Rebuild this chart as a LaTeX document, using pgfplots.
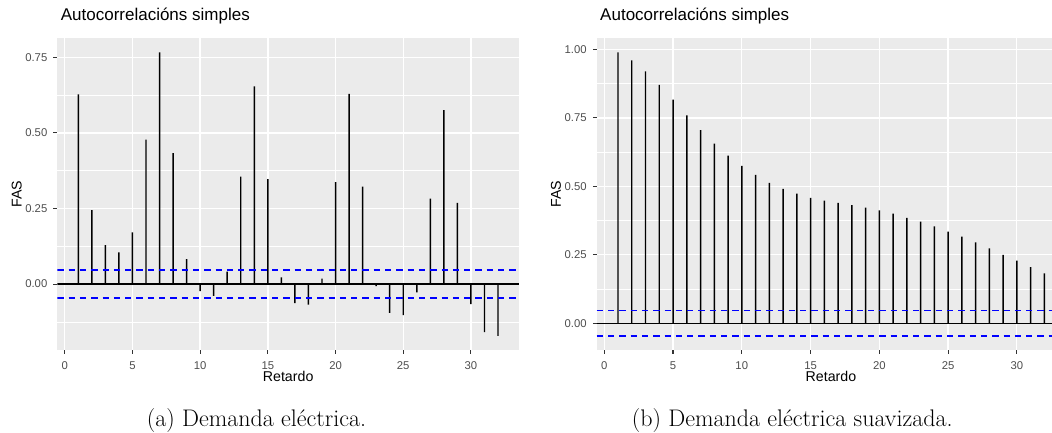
\documentclass[border=0pt]{standalone}
\usepackage{fontspec}
\usepackage{pgfplots}
\pgfplotsset{compat=1.18}
\newfontfamily\ggfont{Liberation Sans}
\definecolor{ggpanel}{HTML}{EBEBEB}
\definecolor{ggtick}{HTML}{333333}
\definecolor{gglab}{HTML}{4D4D4D}

% ACF values, lags 1..32
\pgfplotstableread{
lag acf
1 0.627
2 0.245
3 0.129
4 0.105
5 0.171
6 0.478
7 0.766
8 0.433
9 0.083
10 -0.023
11 -0.039
12 0.041
13 0.355
14 0.654
15 0.347
16 0.022
17 -0.063
18 -0.068
19 0.018
20 0.337
21 0.629
22 0.322
23 -0.007
24 -0.095
25 -0.103
26 -0.027
27 0.283
28 0.575
29 0.269
30 -0.066
31 -0.159
32 -0.171
}\acfdemanda

\pgfplotstableread{
lag acf
1 0.989
2 0.960
3 0.920
4 0.871
5 0.817
6 0.759
7 0.705
8 0.656
9 0.612
10 0.575
11 0.542
12 0.513
13 0.491
14 0.473
15 0.458
16 0.448
17 0.440
18 0.431
19 0.422
20 0.412
21 0.400
22 0.385
23 0.371
24 0.354
25 0.335
26 0.316
27 0.295
28 0.273
29 0.250
30 0.229
31 0.205
32 0.182
}\acfsuave

\pgfplotsset{
  ggacf/.style={
    scale only axis,
    anchor=south west,
    height=311.7pt,
    axis background/.style={fill=ggpanel},
    axis x line*=bottom, axis y line*=left,
    axis line style={draw=none},
    tick align=outside,
    major tick length=3.8pt,
    minor tick length=0pt,
    every tick/.style={ggtick, line width=1.1pt},
    xmajorgrids, ymajorgrids, yminorgrids,
    major grid style={white, line width=1.38pt},
    minor grid style={white, line width=0.69pt},
    xtick={0,5,...,30},
    xticklabels={0,5,10,15,20,25,30},
    xticklabel style={font=\ggfont\fontsize{11.3}{13}\selectfont, text=gglab,
      inner sep=0pt, anchor=base, yshift=-15.7pt},
    yticklabel style={font=\ggfont\fontsize{11.3}{13}\selectfont, text=gglab,
      inner sep=0pt, anchor=east, xshift=-6pt},
    title style={at={(axis description cs:0,1)}, anchor=base west, yshift=11.6pt,
      font=\ggfont\fontsize{17}{20}\selectfont},
    xlabel style={anchor=base, yshift=-31.7pt,
      font=\ggfont\fontsize{14.2}{17}\selectfont},
    ylabel style={anchor=base, font=\ggfont\fontsize{14.2}{17}\selectfont},
    title={Autocorrelacións simples},
    xlabel={Retardo}, ylabel={FAS},
    xmin=-0.55,
  },
  acfbar/.style={ybar, bar width=1.45pt, fill=black, draw=none},
  zeroline/.style={black, line width=1.4pt},
  ciline/.style={blue, line width=1.5pt, dash pattern=on 6.3pt off 5pt},
}

\begin{document}
\begin{tikzpicture}
% (a) electricity demand
\begin{axis}[ggacf,
  at={(57.3pt,83pt)}, width=461.7pt,
  xmax=33.55, ymin=-0.2179, ymax=0.8128,
  ytick={0,0.25,0.5,0.75},
  yticklabels={0.00,0.25,0.50,0.75},
  minor ytick={-0.125,0.125,0.375,0.625},
  xlabel style={at={(axis description cs:0.5,0)}},
  ylabel style={at={(axis description cs:-0.0775,0.5)}},
]
\addplot[zeroline] coordinates {(-0.55,0) (33.55,0)};
\addplot[acfbar] table[x=lag, y=acf] {\acfdemanda};
\addplot[ciline] coordinates {(-0.55,0.046) (33.55,0.046)};
\addplot[ciline] coordinates {(-0.55,-0.046) (33.55,-0.046)};
\end{axis}

% (b) smoothed electricity demand
\begin{axis}[ggacf,
  at={(596.7pt,83pt)}, width=455.3pt,
  xmax=32.56, ymin=-0.0978, ymax=1.0408,
  ytick={0,0.25,0.5,0.75,1},
  yticklabels={0.00,0.25,0.50,0.75,1.00},
  minor ytick={0.125,0.375,0.625,0.875},
  xlabel style={at={(axis description cs:0.5146,0)}},
  ylabel style={at={(axis description cs:-0.0786,0.5)}},
]
\addplot[zeroline] coordinates {(-0.55,0) (33.55,0)};
\addplot[acfbar] table[x=lag, y=acf] {\acfsuave};
\addplot[ciline] coordinates {(-0.55,0.046) (33.55,0.046)};
\addplot[ciline] coordinates {(-0.55,-0.046) (33.55,-0.046)};
\end{axis}

\node[anchor=base west, inner sep=0pt, font=\fontsize{24}{28}\selectfont]
  at (146.7pt,6.3pt) {(a) Demanda eléctrica.};
\node[anchor=base west, inner sep=0pt, font=\fontsize{24}{28}\selectfont]
  at (631.7pt,6.3pt) {(b) Demanda eléctrica suavizada.};

\pgfresetboundingbox
\path[use as bounding box] (0,0) rectangle (1052pt,433pt);
\end{tikzpicture}
\end{document}
